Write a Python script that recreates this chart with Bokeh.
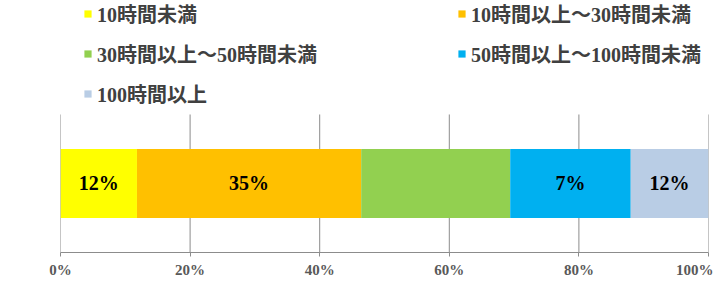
from bokeh.plotting import figure
from bokeh.models import ColumnDataSource, Legend, LegendItem, LabelSet, Range1d, FixedTicker
from bokeh.embed import file_html
from bokeh.resources import INLINE
import numpy as np

series = ["10時間未満", "10時間以上～30時間未満", "30時間以上～50時間未満",
          "50時間以上～100時間未満", "100時間以上"]
values = [11.8, 34.6, 23.0, 18.6, 12.0]
bar_labels = ["12%", "35%", "", "7%", "12%"]
colors = ["#FFFF00", "#FFC000", "#92D050", "#00B0F0", "#B9CDE5"]
ticks = [0, 20, 40, 60, 80, 100]
tick_labels = ["0%", "20%", "40%", "60%", "80%", "100%"]
category = [0]

FONT = "Liberation Serif, Noto Sans CJK JP"

rights = np.cumsum(values)
lefts = rights - np.array(values)
mids = (lefts + rights) / 2

src = ColumnDataSource({"y": category, **{s: [v] for s, v in zip(series, values)}})

p = figure(width=713, height=282, output_backend="svg", toolbar_location=None,
           x_range=Range1d(0, 100), y_range=Range1d(-1, 2.652),
           min_border_left=60, min_border_right=5, min_border_top=0, min_border_bottom=30)
p.outline_line_color = None
p.background_fill_color = "white"
p.border_fill_color = "white"

# vertical grid lines spanning only the bar band
p.segment(x0=ticks, x1=ticks, y0=[-1] * len(ticks), y1=[1] * len(ticks),
          line_color="#8c8c8c", line_width=1)

rs = p.hbar_stack(series, y="y", height=1.0, color=colors, source=src, line_color=None)

lab_src = ColumnDataSource({"x": mids, "y": [0] * len(mids), "t": bar_labels})
p.add_layout(LabelSet(x="x", y="y", text="t", source=lab_src, text_align="center",
                      text_baseline="middle", text_font=FONT, text_font_size="20px",
                      text_font_style="bold", text_color="black"))

p.yaxis.visible = False
p.ygrid.visible = False
p.xgrid.visible = False
p.xaxis.ticker = FixedTicker(ticks=ticks)
p.xaxis.major_label_overrides = dict(zip(ticks, tick_labels))
p.xaxis.axis_line_color = "#8c8c8c"
p.xaxis.major_tick_line_color = "#8c8c8c"
p.xaxis.major_tick_out = 4
p.xaxis.major_tick_in = 0
p.xaxis.minor_tick_line_color = None
p.xaxis.major_label_text_font = FONT
p.xaxis.major_label_text_font_size = "15px"
p.xaxis.major_label_text_font_style = "bold"
p.xaxis.major_label_text_color = "#595959"
p.xaxis.major_label_standoff = 5

def make_legend(idx, loc):
    lg = Legend(items=[LegendItem(label=series[i], renderers=[rs[i]]) for i in idx],
                location=loc, orientation="vertical")
    lg.border_line_color = None
    lg.background_fill_alpha = 0
    lg.padding = 0
    lg.margin = 0
    lg.spacing = 11
    lg.glyph_width = 9
    lg.glyph_height = 9
    lg.label_height = 20
    lg.label_standoff = 5
    lg.label_text_font = FONT
    lg.label_text_font_size = "20px"
    lg.label_text_font_style = "bold"
    lg.label_text_color = "#404040"
    return lg

p.add_layout(make_legend([0, 2, 4], (23, 144)), "center")
p.add_layout(make_legend([1, 3], (397, 184)), "center")

open("out.html", "w").write(file_html(p, INLINE))
